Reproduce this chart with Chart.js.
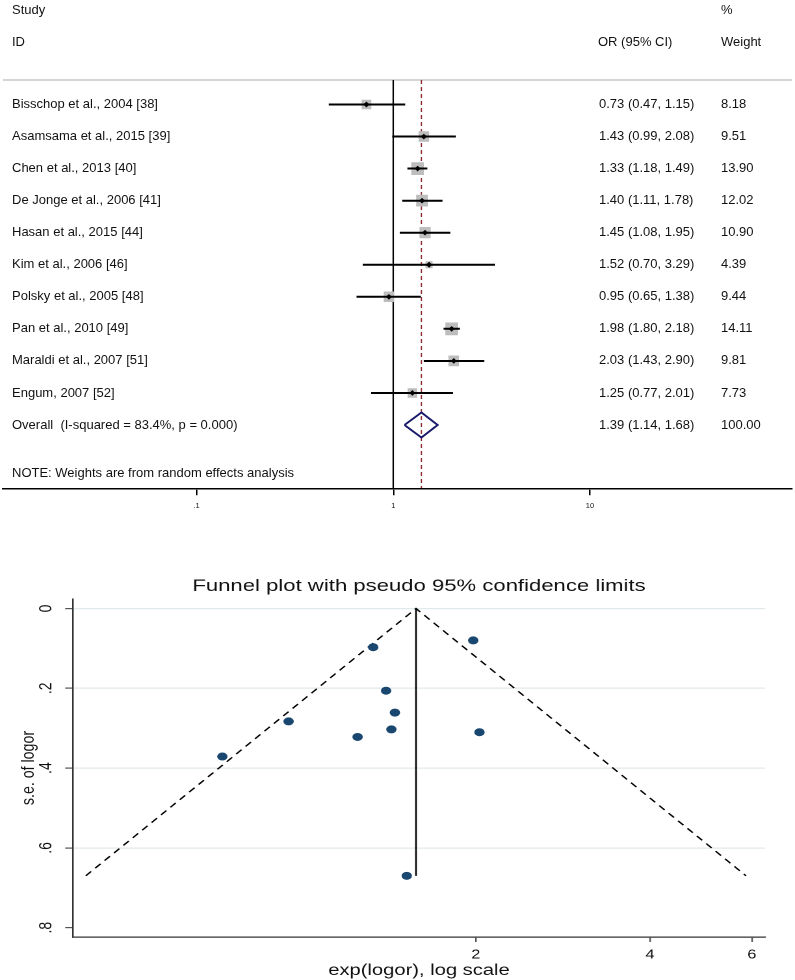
<!DOCTYPE html>
<html>
<head>
<meta charset="utf-8">
<script src="https://cdn.jsdelivr.net/npm/chart.js@4.4.1/dist/chart.umd.min.js"></script>
<style>
html, body { margin: 0; padding: 0; background: #ffffff; }
#forestBox { position: absolute; left: 0; top: 0; width: 795px; height: 520px; }
#funnelBox { position: absolute; left: 0; top: 540px; width: 612px; height: 440px; transform: scaleX(1.3); transform-origin: 0 0; }
</style>
</head>
<body>
<div id="forestBox"><canvas id="forest"></canvas></div>
<div id="funnelBox"><canvas id="funnel"></canvas></div>
<script>
// ---------------- data ----------------
const studies = [
  "Bisschop et al., 2004 [38]",
  "Asamsama et al., 2015 [39]",
  "Chen et al., 2013 [40]",
  "De Jonge et al., 2006 [41]",
  "Hasan et al., 2015 [44]",
  "Kim et al., 2006 [46]",
  "Polsky et al., 2005 [48]",
  "Pan et al., 2010 [49]",
  "Maraldi et al., 2007 [51]",
  "Engum, 2007 [52]"
];
const orValues = [0.73, 1.43, 1.33, 1.40, 1.45, 1.52, 0.95, 1.98, 2.03, 1.25];
const ciLower  = [0.47, 0.99, 1.18, 1.11, 1.08, 0.70, 0.65, 1.80, 1.43, 0.77];
const ciUpper  = [1.15, 2.08, 1.49, 1.78, 1.95, 3.29, 1.38, 2.18, 2.90, 2.01];
const weights  = [8.18, 9.51, 13.90, 12.02, 10.90, 4.39, 9.44, 14.11, 9.81, 7.73];
const overallEstimate = [1.39, 1.14, 1.68];   // OR, lower, upper
const overallWeight = 100.00;
const overallLabel = "Overall  (I-squared = 83.4%, p = 0.000)";
const noteLabel = "NOTE: Weights are from random effects analysis";
const nullValue = 1;
const forestTicks = [0.1, 1, 10];
const forestTickLabels = [".1", "1", "10"];

// funnel plot
const funnelSE = [0.371, 0.303, 0.097, 0.206, 0.261, 0.670, 0.283, 0.080, 0.310, 0.322];
const funnelPooled = 1.577;
const funnelMaxSE = 0.67;
const funnelLimits = [0.424, 5.86];
const funnelTicksX = [2, 4, 6];
const funnelTicksY = [0, 0.2, 0.4, 0.6, 0.8];
const funnelTickLabelsY = ["0", ".2", ".4", ".6", ".8"];

// ---------------- common ----------------
Chart.defaults.font.family = "'Liberation Sans', Arial, Helvetica, sans-serif";
Chart.defaults.color = '#111';
const FONT = "'Liberation Sans', Arial, Helvetica, sans-serif";

// ---------------- forest plot ----------------
const ruleRow = -0.764;
const axisRow = 11.975;
const overallRow = studies.length;
const noteRow = overallRow + 1.5;
const diamondHalf = 0.39;

const ciData = [];
studies.forEach((s, i) => {
  ciData.push({x: ciLower[i], y: i}, {x: ciUpper[i], y: i}, {x: null, y: null});
});
const pointData = orValues.map((v, i) => ({x: v, y: i}));
const diamondData = [
  {x: overallEstimate[1], y: overallRow},
  {x: overallEstimate[0], y: overallRow - diamondHalf},
  {x: overallEstimate[2], y: overallRow},
  {x: overallEstimate[0], y: overallRow + diamondHalf},
  {x: overallEstimate[1], y: overallRow}
];

const forestText = {
  id: 'forestText',
  afterDraw(chart) {
    const ctx = chart.ctx;
    const ys = chart.scales.y;
    const colStudy = 12, colCI = 599, colW = 721;
    ctx.save();
    ctx.font = '13px ' + FONT;
    ctx.fillStyle = '#111';
    ctx.textAlign = 'left';
    ctx.textBaseline = 'middle';
    const put = (t, x, row) => ctx.fillText(t, x, ys.getPixelForValue(row));
    put('Study', colStudy, -2.92);
    put('ID', colStudy, -1.93);
    put('%', colW, -2.92);
    put('OR (95% CI)', colCI - 1, -1.93);
    put('Weight', colW, -1.93);
    studies.forEach((s, i) => {
      put(s, colStudy, i);
      put(orValues[i].toFixed(2) + ' (' + ciLower[i].toFixed(2) + ', ' + ciUpper[i].toFixed(2) + ')', colCI, i);
      put(weights[i].toFixed(2), colW, i);
    });
    put(overallLabel, colStudy, overallRow);
    put(overallEstimate[0].toFixed(2) + ' (' + overallEstimate[1].toFixed(2) + ', ' + overallEstimate[2].toFixed(2) + ')', colCI, overallRow);
    put(overallWeight.toFixed(2), colW, overallRow);
    put(noteLabel, colStudy, noteRow);
    ctx.restore();
  }
};

new Chart(document.getElementById('forest'), {
  type: 'scatter',
  data: {
    datasets: [
      { // centre dots (top)
        data: pointData,
        pointStyle: 'rectRot',
        pointRadius: 2.9,
        backgroundColor: '#000',
        borderWidth: 0,
        showLine: false
      },
      { // confidence intervals
        data: ciData,
        showLine: true,
        spanGaps: false,
        borderColor: '#000',
        borderWidth: 2,
        pointRadius: 0
      },
      { // weight squares
        data: pointData,
        pointStyle: 'rect',
        pointRadius: (c) => 2.4 * Math.sqrt(weights[c.dataIndex] || 0),
        backgroundColor: '#bdbdbd',
        borderWidth: 0,
        showLine: false
      },
      { // overall diamond
        data: diamondData,
        showLine: true,
        borderColor: '#1b1b6b',
        borderWidth: 2,
        pointRadius: 0,
        fill: false
      },
      { // overall dashed line
        data: [{x: overallEstimate[0], y: ruleRow}, {x: overallEstimate[0], y: axisRow}],
        showLine: true,
        borderColor: '#8e2f36',
        borderWidth: 1.4,
        borderDash: [4, 3],
        pointRadius: 0
      },
      { // null line
        data: [{x: nullValue, y: ruleRow}, {x: nullValue, y: axisRow}],
        showLine: true,
        borderColor: '#000',
        borderWidth: 1.5,
        pointRadius: 0
      }
    ]
  },
  options: {
    responsive: true,
    maintainAspectRatio: false,
    animation: false,
    events: [],
    layout: { padding: { left: 3, right: 3, top: 0, bottom: 0 }, autoPadding: false },
    plugins: { legend: { display: false }, tooltip: { enabled: false }, title: { display: false } },
    scales: {
      x: {
        type: 'logarithmic',
        min: 0.01037,
        max: 106.4,
        bounds: 'data',
        afterBuildTicks: (sc) => { sc.ticks = forestTicks.map(v => ({value: v})); },
        afterFit: (sc) => { sc.height = 31.7; },
        ticks: {
          autoSkip: false,
          maxRotation: 0,
          minRotation: 0,
          padding: 6,
          color: '#111',
          font: { size: 7.5 },
          callback: (v) => { const k = forestTicks.indexOf(v); return k >= 0 ? forestTickLabels[k] : ''; }
        },
        grid: { drawOnChartArea: false, tickLength: 7, color: '#000', lineWidth: 1.5 },
        border: { color: '#000', width: 1.5 }
      },
      y: {
        type: 'linear',
        reverse: true,
        min: -3.26,
        max: axisRow,
        afterBuildTicks: (sc) => { sc.ticks = [{value: ruleRow}]; },
        afterFit: (sc) => { sc.width = 0; },
        ticks: { display: false },
        grid: { drawTicks: false, tickLength: 0, color: '#d5d5d5', lineWidth: 2 },
        border: { display: false }
      }
    }
  },
  plugins: [forestText]
});

// ---------------- funnel plot ----------------
const funnelPoints = orValues.map((v, i) => ({x: v, y: funnelSE[i]}));

const funnelYLabels = {
  id: 'funnelYLabels',
  afterDraw(chart) {
    const ctx = chart.ctx;
    const ys = chart.scales.y;
    ctx.save();
    ctx.font = '14px ' + FONT;
    ctx.fillStyle = '#111';
    ctx.textAlign = 'center';
    ctx.textBaseline = 'middle';
    funnelTicksY.forEach((v, i) => {
      ctx.save();
      ctx.translate(35.8, ys.getPixelForValue(v));
      ctx.rotate(-Math.PI / 2);
      ctx.fillText(funnelTickLabelsY[i], 0, 0);
      ctx.restore();
    });
    ctx.restore();
  }
};

new Chart(document.getElementById('funnel'), {
  type: 'scatter',
  data: {
    datasets: [
      {
        data: funnelPoints,
        pointStyle: 'circle',
        pointRadius: 4,
        backgroundColor: '#1a476f',
        borderWidth: 0,
        showLine: false
      },
      {
        data: [{x: funnelPooled, y: 0}, {x: funnelPooled, y: funnelMaxSE}],
        showLine: true,
        borderColor: '#000',
        borderWidth: 1.3,
        pointRadius: 0
      },
      {
        data: [{x: funnelLimits[0], y: funnelMaxSE}, {x: funnelPooled, y: 0}, {x: funnelLimits[1], y: funnelMaxSE}],
        showLine: true,
        borderColor: '#000',
        borderWidth: 1.3,
        borderDash: [6, 4.5],
        pointRadius: 0
      }
    ]
  },
  options: {
    responsive: true,
    maintainAspectRatio: false,
    animation: false,
    events: [],
    devicePixelRatio: 2,
    layout: { padding: { left: 0, right: 23.54, top: 0, bottom: 0 }, autoPadding: false },
    plugins: {
      legend: { display: false },
      tooltip: { enabled: false },
      title: {
        display: true,
        text: 'Funnel plot with pseudo 95% confidence limits',
        fullSize: false,
        color: '#111',
        font: { size: 17, weight: 'normal', lineHeight: 1.2 },
        padding: { top: 36, bottom: 2.6 }
      }
    },
    scales: {
      x: {
        type: 'logarithmic',
        min: 0.403,
        max: 6.32,
        bounds: 'data',
        afterBuildTicks: (sc) => { sc.ticks = funnelTicksX.map(v => ({value: v})); },
        afterFit: (sc) => { sc.height = 43; },
        ticks: {
          autoSkip: false, maxRotation: 0, minRotation: 0,
          padding: 5.5,
          color: '#111',
          font: { size: 12.5 },
          callback: (v) => String(v)
        },
        grid: { drawOnChartArea: false, tickLength: 5, color: '#555', lineWidth: 1.2 },
        border: { color: '#333', width: 1.2 },
        title: {
          display: true,
          text: 'exp(logor), log scale',
          color: '#111',
          font: { size: 15.5, lineHeight: 1.2 },
          padding: { top: 0, bottom: 0 }
        }
      },
      y: {
        type: 'linear',
        reverse: true,
        min: -0.0238,
        max: 0.8233,
        afterBuildTicks: (sc) => { sc.ticks = funnelTicksY.map(v => ({value: v})); },
        afterFit: (sc) => { sc.width = 56.15; },
        ticks: { display: false },
        grid: {
          color: (c) => (c.tick && c.tick.value === 0.8) ? 'rgba(0,0,0,0)' : '#e1e9ec',
          tickColor: '#555',
          lineWidth: 1.2,
          tickLength: 6
        },
        border: { color: '#333', width: 1.2 },
        title: {
          display: true,
          text: 's.e. of logor',
          color: '#111',
          font: { size: 14.2, lineHeight: 1.2 },
          padding: { top: 13.8, bottom: 0 }
        }
      }
    }
  },
  plugins: [funnelYLabels]
});
</script>
</body>
</html>
